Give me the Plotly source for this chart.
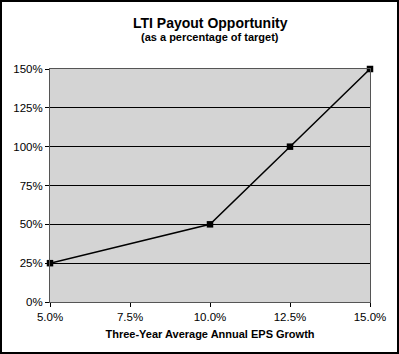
import plotly.graph_objects as go

eps_growth = [5.0, 10.0, 12.5, 15.0]
payout = [25, 50, 100, 150]
x_ticks = [5.0, 7.5, 10.0, 12.5, 15.0]
x_tick_labels = ["5.0%", "7.5%", "10.0%", "12.5%", "15.0%"]
y_ticks = [0, 25, 50, 75, 100, 125, 150]
y_tick_labels = ["0%", "25%", "50%", "75%", "100%", "125%", "150%"]

W, H = 399, 354
L, R, T, B = 50, 29, 69, 52
pw, ph = W - L - R, H - T - B

fig = go.Figure(go.Scatter(
    x=eps_growth, y=payout, mode="lines+markers",
    line=dict(color="black", width=1.5),
    marker=dict(symbol="square", size=6.5, color="black"),
    showlegend=False, cliponaxis=False))

font = "Liberation Sans, Arial, sans-serif"
fig.update_layout(
    width=W, height=H,
    margin=dict(l=L, r=R, t=T, b=B),
    paper_bgcolor="white", plot_bgcolor="#d4d4d4",
    font=dict(family=font, size=11, color="black"),
    annotations=[
        dict(text="<b>LTI Payout Opportunity</b>", x=0.5, xref="paper",
             y=(H - 23 - B) / ph, yref="paper", showarrow=False,
             font=dict(size=14), yanchor="middle"),
        dict(text="<b>(as a percentage of target)</b>", x=0.5, xref="paper",
             y=(H - 37 - B) / ph, yref="paper", showarrow=False,
             font=dict(size=11), yanchor="middle"),
    ],
    shapes=[dict(type="rect", xref="paper", yref="paper",
                 x0=-(L - 1) / pw, x1=1 + (R - 1) / pw,
                 y0=-(B - 1) / ph, y1=1 + (T - 1) / ph,
                 line=dict(color="black", width=2), layer="above")],
)
fig.update_xaxes(
    range=[5.0, 15.0], tickvals=x_ticks, ticktext=x_tick_labels,
    ticks="outside", ticklen=4, tickcolor="black",
    showgrid=False, zeroline=False,
    showline=True, linecolor="#555555", linewidth=1, mirror=True,
    title=dict(text="<b>Three-Year Average Annual EPS Growth</b>",
               font=dict(size=11), standoff=8),
    tickfont=dict(size=11.5))
fig.update_yaxes(
    range=[0, 150], tickvals=y_ticks, ticktext=y_tick_labels,
    ticks="outside", ticklen=4, tickcolor="black",
    showgrid=True, gridcolor="black", gridwidth=1, zeroline=False,
    showline=True, linecolor="#555555", linewidth=1, mirror=True,
    tickfont=dict(size=11.5))

fig.write_html("out.html")
